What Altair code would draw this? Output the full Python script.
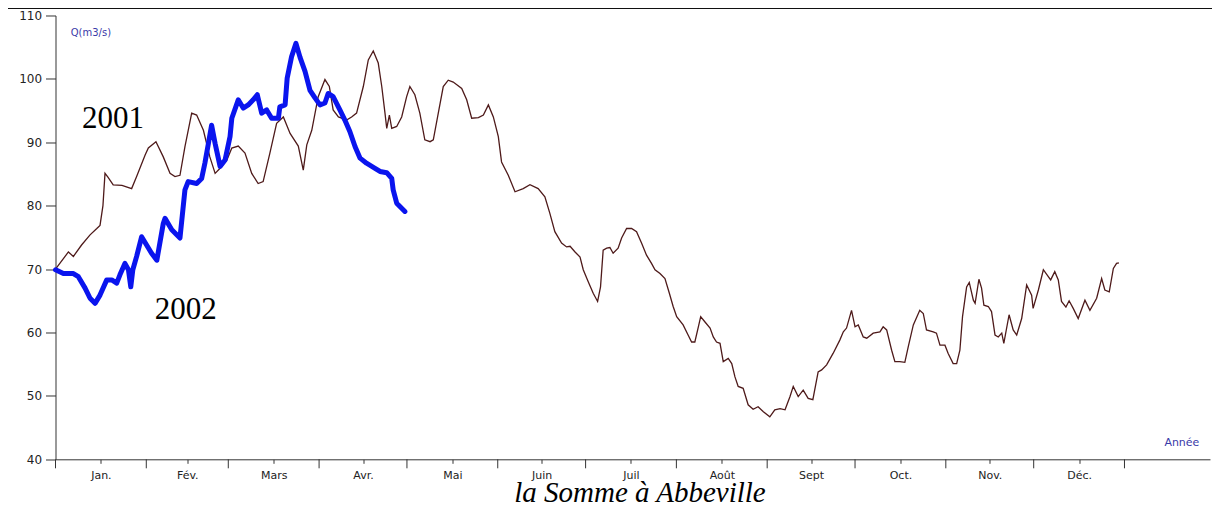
import altair as alt
import pandas as pd

# ---- data (day of year, discharge m3/s) ----
days_2001 = [0, 4.4, 6.1, 8.9, 11.8, 14.1, 15.2, 16.2, 16.9, 17.9, 19.7, 22.7, 26.0, 27.7, 30.6, 31.7,
             34.3, 36.8, 39.1, 40.8, 42.5, 44.2, 46.5, 48.2, 50.5, 52.7, 54.5, 56.2, 58.5, 60.2, 62.4,
             64.7, 67.0, 69.2, 70.9, 73.2, 75.5, 77.8, 80.1, 82.9, 84.6, 85.8, 87.5, 89.7, 92.0, 93.5,
             94.8, 96.6, 99.4, 101.1, 102.8, 105.1, 106.8, 108.5, 110.2, 111.4, 112.5, 113.1, 114.0,
             114.8, 116.5, 118.2, 119.9, 121.0, 122.7, 124.4, 126.1, 127.9, 129.0, 130.7, 132.4, 134.1,
             135.8, 138.7, 140.4, 142.1, 144.4, 146.1, 147.8, 149.5, 151.2, 152.3, 154.6, 156.9, 159.7,
             162.0, 164.8, 167.1, 168.8, 170.5, 172.8, 174.5, 175.7, 177.4, 179.1, 180.2, 181.9, 183.6,
             185.1, 186.1, 187.0, 188.2, 189.3, 190.4, 192.1, 193.3, 195.0, 196.7, 198.4, 200.1, 201.8,
             203.5, 204.7, 206.4, 208.1, 209.6, 210.9, 212.1, 214.3, 216.0, 217.2, 218.3, 219.5, 220.3,
             221.7, 223.5, 224.6, 225.7, 226.9, 228.0, 229.7, 230.9, 232.0, 233.1, 234.8, 236.5, 238.2,
             239.9, 241.7, 243.9, 245.6, 247.4, 249.1, 250.8, 251.9, 253.6, 255.3, 257.0, 258.6, 260.4,
             261.6, 263.3, 265.5, 267.8, 269.0, 270.1, 271.8, 273.0, 274.1, 275.8, 277.0, 279.2, 281.5,
             282.6, 283.8, 285.5, 286.6, 288.3, 290.0, 291.2, 292.9, 295.1, 296.3, 297.4, 299.7, 300.8,
             302.0, 303.7, 304.8, 306.5, 307.7, 308.8, 309.7, 311.1, 312.0, 313.4, 314.0, 315.3, 316.2,
             317.0, 318.5, 319.6, 320.8, 321.9, 323.1, 323.8, 325.6, 327.0, 328.2, 329.9, 331.6, 333.3,
             333.8, 335.6, 337.3, 339.8, 341.2, 342.4, 343.5, 345.0, 346.1, 347.5, 349.2, 351.5, 353.2,
             355.5, 357.2, 358.3, 359.8, 361.2, 362.3, 363.1]
q_2001 = [70.0, 72.7, 72.0, 73.8, 75.4, 76.4, 76.9, 80.0, 85.1, 84.5, 83.3, 83.2, 82.7, 84.6, 88.0, 89.1,
          90.1, 87.7, 85.1, 84.6, 84.8, 89.3, 94.6, 94.3, 91.9, 87.7, 85.1, 85.9, 87.2, 89.1, 89.4,
          88.3, 85.1, 83.5, 83.8, 88.3, 93.0, 94.0, 91.4, 89.4, 85.6, 89.6, 91.9, 97.2, 99.9, 98.8,
          95.1, 94.0, 93.5, 94.0, 94.6, 98.8, 103.0, 104.4, 102.5, 98.8, 94.6, 92.2, 94.3,
          92.2, 92.5, 94.0, 97.2, 98.8, 97.5, 94.6, 90.4, 90.1, 90.4, 94.6, 98.8, 99.8,
          99.5, 98.5, 96.7, 93.8, 93.9, 94.3, 95.9, 94.0, 90.9, 86.9, 84.8, 82.2, 82.7,
          83.3, 82.7, 81.4, 78.8, 75.9, 74.1, 73.5, 73.6, 72.7, 71.9, 69.9, 68.0, 66.2,
          64.9, 67.2, 73.0, 73.3, 73.4, 72.5, 73.3, 74.9, 76.4, 76.4, 75.9, 74.1, 72.2,
          70.9, 69.9, 69.3, 68.5, 66.2, 64.1, 62.5, 61.2, 59.6, 58.5, 58.5, 60.9, 62.5,
          61.7, 60.7, 59.3, 58.5, 58.3, 55.4, 55.9, 55.1, 53.0, 51.5, 51.2, 48.6, 47.9,
          48.3, 47.5, 46.7, 47.8, 48.0, 47.8, 49.9, 51.5, 49.9, 50.9, 49.6, 49.4, 53.8,
          54.1, 54.9, 56.7, 58.8, 60.1, 60.7, 63.5, 60.9, 61.2, 59.3, 59.1, 59.9, 60.1,
          60.9, 60.4, 57.2, 55.4, 55.4, 55.3, 57.8, 61.2, 63.5, 63.0, 60.4, 60.1, 59.9,
          58.0, 58.0, 56.7, 55.1, 55.1, 57.2, 62.5, 67.2, 67.9, 65.1, 64.6, 68.4, 67.0,
          64.3, 64.1, 63.3, 59.6, 59.3, 59.9, 58.3, 62.8, 60.4, 59.6, 62.2, 67.5, 65.9,
          63.8, 66.7, 69.9, 68.3, 69.6, 68.3, 64.9, 64.0, 65.0, 63.8, 62.2, 65.1, 63.5,
          65.4, 68.5, 66.7, 66.4, 70.1, 70.9, 71.0]

days_2002 = [0, 2.7, 6.1, 7.8, 10.1, 11.8, 13.5, 15.2, 17.5, 19.2, 20.9, 22.0, 23.7, 24.9, 25.7, 26.4,
             27.7, 29.4, 31.1, 32.8, 34.6, 36.8, 37.4, 39.7, 42.5, 44.2, 45.3, 48.2, 49.9, 51.0, 52.2,
             53.3, 54.5, 56.2, 57.9, 59.6, 60.2, 62.4, 64.1, 65.8, 67.5, 68.9, 70.4, 72.1, 73.8, 76.1,
             76.6, 78.4, 79.1, 80.6, 82.1, 83.5, 85.2, 86.9, 88.6, 90.3, 92.0, 93.1, 94.8, 97.1, 98.8,
             100.5, 102.3, 104.0, 106.2, 109.1, 110.8, 113.1, 114.8, 115.3, 116.5, 119.3]
q_2002 = [69.9, 69.3, 69.3, 68.8, 67.0, 65.4, 64.6, 65.9, 68.3, 68.3, 67.8, 69.1, 70.9, 69.9, 67.2, 69.9,
          72.0, 75.1, 73.8, 72.5, 71.4, 77.2, 78.0, 76.2, 74.9, 82.5, 83.8, 83.5, 84.3, 86.7, 89.8,
          92.7, 89.8, 86.2, 87.2, 90.9, 93.8, 96.7, 95.4, 95.9, 96.7, 97.5, 94.6, 95.1, 93.8, 93.8,
          95.6, 95.9, 100.1, 103.5, 105.6, 103.4, 101.2, 98.2, 97.0, 95.9, 96.2, 97.7, 97.2, 95.1, 93.5,
          91.7, 89.3, 87.5, 86.7, 85.9, 85.4, 85.2, 84.3, 82.5, 80.4, 79.1]

month_starts = [0, 31, 59, 90, 120, 151, 181, 212, 243, 273, 304, 334, 365]
month_mids = [15.5, 45, 74.5, 105, 135.5, 166, 196.5, 227.5, 258, 288.5, 319, 349.5]
month_labels = ["Jan.", "Fév.", "Mars", "Avr.", "Mai", "Juin", "Juil", "Août", "Sept", "Oct.", "Nov.", "Déc."]
y_ticks = list(range(40, 111, 5))

annot_text = ["2001", "2002"]
annot_day = [19.6, 44.5]
annot_q = [93.6, 63.5]

# ---- layout ----
W = 1154.5
H = 443.8
XMAX = 394.2

df01 = pd.DataFrame({"day": days_2001, "q": q_2001})
df02 = pd.DataFrame({"day": days_2002, "q": q_2002})
dfb = pd.DataFrame({"day": month_starts})
dfa = pd.DataFrame({"day": annot_day, "q": annot_q, "t": annot_text})
dfq = pd.DataFrame({"day": [5.2], "q": [107.3], "t": ["Q(m3/s)"]})
dfy = pd.DataFrame({"day": [384.6], "q": [42.6], "t": ["Année"]})

xscale = alt.Scale(domain=[0, XMAX], nice=False, zero=False)
yscale = alt.Scale(domain=[40, 110], nice=False, zero=False)

mids_js = "[" + ",".join(str(m) for m in month_mids) + "]"
labs_js = "[" + ",".join("'" + s + "'" for s in month_labels) + "]"

xaxis = alt.Axis(values=month_mids, labelExpr=f"{labs_js}[indexof({mids_js}, datum.value)]",
                 title=None, tickSize=4, labelPadding=6, grid=False,
                 labelFont="DejaVu Sans", labelFontSize=11, labelColor="#222222",
                 domainColor="#333333", tickColor="#333333", labelFlush=False, labelOverlap=False)
yaxis = alt.Axis(values=y_ticks, labelExpr="datum.value % 10 == 0 ? datum.label : ''",
                 title=None, tickSize=10, labelPadding=4, grid=False,
                 labelFont="DejaVu Sans", labelFontSize=12, labelColor="#222222",
                 domainColor="#333333", tickColor="#333333", labelFlush=False, labelOverlap=False)

X = alt.X("day:Q", scale=xscale, axis=xaxis)
Y = alt.Y("q:Q", scale=yscale, axis=yaxis)
Xp = alt.X("day:Q", scale=xscale, title=None)
Yp = alt.Y("q:Q", scale=yscale, title=None)

line01 = alt.Chart(df01).mark_line(color="#4e1a1a", strokeWidth=1.3).encode(x=X, y=Y)
line02 = alt.Chart(df02).mark_line(color="#0a14ee", strokeWidth=5, strokeJoin="round", strokeCap="round").encode(x=Xp, y=Yp)

bticks = alt.Chart(dfb).mark_rule(color="#333333", strokeWidth=1).encode(
    x=Xp, y=alt.value(H), y2=alt.value(H + 9))

annots = alt.Chart(dfa).mark_text(font="Liberation Serif", fontSize=31, color="#000000",
                                  align="center", baseline="middle").encode(x=Xp, y=Yp, text="t:N")
qlab = alt.Chart(dfq).mark_text(font="DejaVu Sans", fontSize=10, color="#3a3aa8",
                                align="left", baseline="middle").encode(x=Xp, y=Yp, text="t:N")
ylab = alt.Chart(dfy).mark_text(font="DejaVu Sans", fontSize=11, color="#3a3aa8",
                                align="center", baseline="middle").encode(x=Xp, y=Yp, text="t:N")

topline = alt.Chart(df01).mark_rule(color="#111111", strokeWidth=2).encode(
    x=alt.value(-47.5), x2=alt.value(W + 2), y=alt.value(-7.5))

title = alt.Chart(pd.DataFrame({"t": ["la Somme à Abbeville"]})).mark_text(
    font="Liberation Serif", fontSize=29, fontStyle="italic", color="#000000",
    align="center", baseline="alphabetic").encode(
    x=alt.value(584.5), y=alt.value(486.5), text="t:N")

chart = alt.layer(line01, line02, bticks, annots, qlab, ylab, topline, title).properties(
    width=W, height=H,
    autosize=alt.AutoSizeParams(type="none"),
    padding={"left": 47.5, "top": 7.5, "right": 2, "bottom": 49},
    background="white",
).configure_view(stroke=None)

chart.save("out.html", embed_options={"renderer": "svg", "actions": False})
